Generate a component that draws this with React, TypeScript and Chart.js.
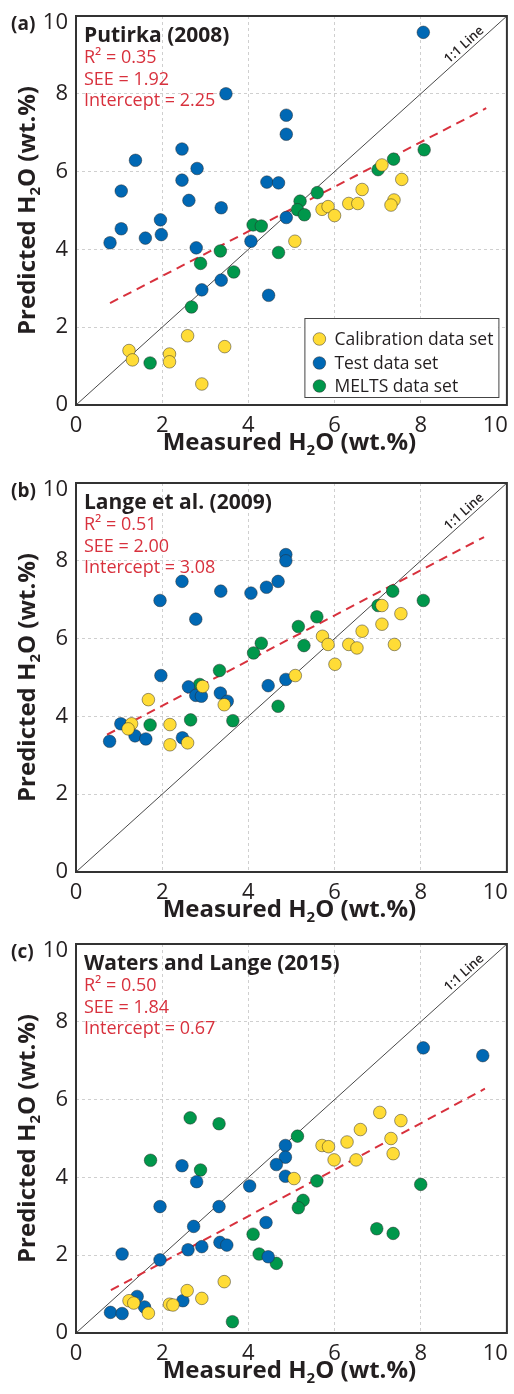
import React, { useEffect, useRef } from 'react';
import { Chart, registerables } from 'chart.js';

Chart.register(...registerables);

const FONT = '"Open Sans", "Noto Sans", sans-serif';
const INK = '#231f20';
const RED = '#d8313d';
const YELLOW = '#ffdc36';
const BLUE = '#0068b4';
const GREEN = '#00974b';

// ---------- shared ----------
const TICKS = [0, 2, 4, 6, 8, 10];
const SERIES_NAMES = ['Calibration data set', 'Test data set', 'MELTS data set'];
const PANEL_LETTERS = ['(a)', '(b)', '(c)'];
const MODEL_NAMES = ['Putirka (2008)', 'Lange et al. (2009)', 'Waters and Lange (2015)'];
const R2 = ['0.35', '0.51', '0.50'];
const SEE = ['1.92', '2.00', '1.84'];
const INTERCEPT = ['2.25', '3.08', '0.67'];
const X_TITLE = ['Measured H', '2', 'O (wt.%)'];
const Y_TITLE = ['Predicted H', '2', 'O (wt.%)'];
const ONE_TO_ONE_X = [0, 10];
const ONE_TO_ONE_Y = [0, 10];
const ONE_TO_ONE_LABEL = '1:1 Line';

// ---------- panel (a) Putirka (2008) ----------
const A_CAL_X = [7.10, 7.56, 6.64, 6.33, 6.54, 7.38, 7.31, 5.71, 5.85, 6.00, 5.08, 2.59, 1.23, 1.31, 2.17, 2.17, 3.45, 2.92];
const A_CAL_Y = [6.17, 5.80, 5.54, 5.18, 5.18, 5.27, 5.14, 5.03, 5.10, 4.87, 4.21, 1.78, 1.40, 1.16, 1.31, 1.11, 1.50, 0.54];
const A_TEST_X = [8.06, 3.48, 4.88, 4.88, 2.46, 1.38, 2.81, 2.46, 4.43, 4.70, 1.05, 2.62, 3.37, 1.96, 4.88, 1.05, 0.79, 1.61, 1.98, 2.79, 4.06, 3.37, 2.92, 4.47];
const A_TEST_Y = [9.58, 8.00, 7.45, 6.96, 6.58, 6.29, 6.08, 5.78, 5.73, 5.71, 5.50, 5.26, 5.07, 4.76, 4.82, 4.53, 4.17, 4.29, 4.38, 4.04, 4.21, 3.21, 2.96, 2.82];
const A_MELTS_X = [8.08, 7.37, 7.01, 5.60, 5.20, 5.14, 5.30, 4.11, 4.30, 3.35, 4.70, 2.89, 3.66, 2.68, 1.72];
const A_MELTS_Y = [6.56, 6.32, 6.05, 5.46, 5.24, 5.02, 4.89, 4.63, 4.60, 3.96, 3.92, 3.64, 3.42, 2.52, 1.08];
const A_FIT_X = [0.79, 9.52];
const A_FIT_Y = [2.62, 7.63];

// ---------- panel (b) Lange et al. (2009) ----------
const B_CAL_X = [7.10, 7.54, 7.10, 6.64, 5.72, 5.85, 6.33, 6.52, 7.39, 6.01, 5.09, 2.94, 1.68, 3.44, 1.29, 1.21, 2.18, 2.18, 2.59];
const B_CAL_Y = [6.85, 6.64, 6.37, 6.19, 6.06, 5.85, 5.85, 5.76, 5.85, 5.34, 5.05, 4.77, 4.43, 4.30, 3.81, 3.68, 3.79, 3.27, 3.32];
const B_TEST_X = [4.87, 4.87, 2.46, 4.69, 4.42, 3.36, 4.06, 1.95, 2.78, 1.97, 4.87, 2.61, 4.46, 2.78, 2.91, 3.35, 3.51, 1.04, 1.37, 1.62, 2.47, 0.78];
const B_TEST_Y = [8.16, 8.00, 7.47, 7.47, 7.32, 7.22, 7.17, 6.98, 6.50, 5.05, 4.95, 4.76, 4.79, 4.54, 4.52, 4.60, 4.39, 3.81, 3.50, 3.42, 3.45, 3.36];
const B_MELTS_X = [7.35, 8.06, 7.01, 5.59, 5.16, 5.29, 4.30, 4.12, 3.33, 2.87, 1.72, 2.66, 3.64, 4.69];
const B_MELTS_Y = [7.22, 6.98, 6.85, 6.56, 6.31, 5.82, 5.88, 5.63, 5.18, 4.82, 3.78, 3.91, 3.89, 4.26];
const B_FIT_X = [0.72, 9.47];
const B_FIT_Y = [3.53, 8.61];

// ---------- panel (c) Waters and Lange (2015) ----------
const C_CAL_X = [7.05, 7.54, 6.60, 7.31, 6.29, 5.71, 5.86, 7.36, 5.99, 6.50, 5.06, 3.44, 2.58, 2.92, 2.17, 2.25, 1.23, 1.34, 1.68];
const C_CAL_Y = [5.67, 5.46, 5.23, 5.00, 4.91, 4.82, 4.79, 4.61, 4.45, 4.45, 3.97, 1.32, 1.09, 0.89, 0.74, 0.72, 0.83, 0.77, 0.51];
const C_TEST_X = [8.06, 9.44, 4.86, 4.86, 4.65, 2.46, 4.86, 2.80, 4.03, 1.95, 3.32, 4.41, 2.73, 3.34, 3.50, 2.92, 2.60, 1.07, 1.95, 4.46, 1.42, 2.48, 1.59, 0.80, 1.07];
const C_TEST_Y = [7.33, 7.13, 4.82, 4.52, 4.33, 4.30, 4.03, 3.89, 3.78, 3.25, 3.25, 2.84, 2.74, 2.33, 2.26, 2.22, 2.14, 2.03, 1.88, 1.96, 0.94, 0.83, 0.67, 0.53, 0.50];
const C_MELTS_X = [2.65, 3.32, 5.14, 1.73, 2.89, 5.59, 8.00, 5.27, 5.16, 6.98, 7.36, 4.11, 4.25, 4.65, 3.63];
const C_MELTS_Y = [5.53, 5.38, 5.06, 4.44, 4.19, 3.91, 3.82, 3.41, 3.22, 2.68, 2.56, 2.54, 2.03, 1.79, 0.29];
const C_FIT_X = [0.81, 9.49];
const C_FIT_Y = [1.10, 6.28];

const zip = (xs: number[], ys: number[]) => xs.map((x, i) => ({ x, y: ys[i] }));

const PANEL_DATA = [
  { cal: zip(A_CAL_X, A_CAL_Y), test: zip(A_TEST_X, A_TEST_Y), melts: zip(A_MELTS_X, A_MELTS_Y), fit: zip(A_FIT_X, A_FIT_Y) },
  { cal: zip(B_CAL_X, B_CAL_Y), test: zip(B_TEST_X, B_TEST_Y), melts: zip(B_MELTS_X, B_MELTS_Y), fit: zip(B_FIT_X, B_FIT_Y) },
  { cal: zip(C_CAL_X, C_CAL_Y), test: zip(C_TEST_X, C_TEST_Y), melts: zip(C_MELTS_X, C_MELTS_Y), fit: zip(C_FIT_X, C_FIT_Y) },
];

const CANVAS_W = 514;
const CANVAS_H = 466;
const TOPS = [0, 467, 928];

function drawSub(ctx: CanvasRenderingContext2D, parts: string[], cx: number, cy: number, big: number, small: number, dy: number) {
  const fonts = parts.map((_, i) => `bold ${i === 1 ? small : big}px ${FONT}`);
  let w = 0;
  parts.forEach((p, i) => { ctx.font = fonts[i]; w += ctx.measureText(p).width; });
  let x = cx - w / 2;
  ctx.textAlign = 'left';
  ctx.textBaseline = 'alphabetic';
  parts.forEach((p, i) => {
    ctx.font = fonts[i];
    ctx.fillText(p, x, i === 1 ? cy + dy : cy);
    x += ctx.measureText(p).width;
  });
}

function makePlugin(idx: number) {
  return {
    id: 'decor' + idx,
    beforeDraw(chart: any) {
      try {
        const xs = chart.scales.x;
        const ys = chart.scales.y;
        const xi = xs.getLabelItems(chart.chartArea);
        const last = xi[xi.length - 1];
        if (last && !last._adj) {
          last.options.textAlign = 'right';
          last.options.translation[0] = xs.right + 1;
          last._adj = true;
        }
        const yi = ys.getLabelItems(chart.chartArea);
        const top = yi[yi.length - 1];
        if (top && !top._adj) {
          top.options.translation[1] += 7;
          top._adj = true;
        }
      } catch (e) { /* ignore */ }
    },
    afterDraw(chart: any) {
      const ctx: CanvasRenderingContext2D = chart.ctx;
      const { left, right, top, bottom } = chart.chartArea;
      const xs = chart.scales.x;
      const ys = chart.scales.y;
      ctx.save();
      // frame
      ctx.strokeStyle = '#333';
      ctx.lineWidth = 2;
      ctx.strokeRect(left, top, right - left, bottom - top);

      // 1:1 label
      const ang = Math.atan2(ys.getPixelForValue(10) - ys.getPixelForValue(0), xs.getPixelForValue(10) - xs.getPixelForValue(0));
      ctx.save();
      ctx.translate(xs.getPixelForValue(9.12), ys.getPixelForValue(9.12));
      ctx.rotate(ang);
      ctx.fillStyle = INK;
      ctx.font = `600 13px ${FONT}`;
      ctx.textAlign = 'center';
      ctx.textBaseline = 'alphabetic';
      ctx.fillText(ONE_TO_ONE_LABEL, 0, -3.5);
      ctx.restore();

      // model name and stats
      ctx.textAlign = 'left';
      ctx.textBaseline = 'alphabetic';
      ctx.fillStyle = INK;
      ctx.font = `bold 21px ${FONT}`;
      ctx.fillText(MODEL_NAMES[idx], left + 8, top + 26);
      ctx.fillStyle = RED;
      ctx.font = `18px ${FONT}`;
      ctx.fillText(`R² = ${R2[idx]}`, left + 8, top + 47);
      ctx.fillText(`SEE = ${SEE[idx]}`, left + 8, top + 69);
      ctx.fillText(`Intercept = ${INTERCEPT[idx]}`, left + 8, top + 90);

      // panel letter
      ctx.fillStyle = INK;
      ctx.font = `bold 19px ${FONT}`;
      ctx.fillText(PANEL_LETTERS[idx], 11, top + 14);

      // axis titles
      ctx.fillStyle = INK;
      drawSub(ctx, X_TITLE, (left + right) / 2 - 2, bottom + 45, 24, 15, 5);
      ctx.save();
      ctx.translate(35, (top + bottom) / 2);
      ctx.rotate(-Math.PI / 2);
      drawSub(ctx, Y_TITLE, 0, 0, 24, 15, 5);
      ctx.restore();

      // legend (panel a)
      if (idx === 0) {
        const bw = 194, bh = 79;
        const bx = right - 8.5 - bw;
        const by = bottom - 8 - bh;
        ctx.fillStyle = '#fff';
        ctx.fillRect(bx, by, bw, bh);
        ctx.strokeStyle = '#444';
        ctx.lineWidth = 1;
        ctx.strokeRect(bx + 0.5, by + 0.5, bw, bh);
        const cols = [YELLOW, BLUE, GREEN];
        const rows = [21, 45, 68];
        SERIES_NAMES.forEach((name, i) => {
          ctx.beginPath();
          ctx.arc(bx + 15, by + rows[i], 6.3, 0, Math.PI * 2);
          ctx.fillStyle = cols[i];
          ctx.fill();
          ctx.strokeStyle = 'rgba(40,40,40,0.6)';
          ctx.lineWidth = 0.8;
          ctx.stroke();
          ctx.fillStyle = INK;
          ctx.font = `17.5px ${FONT}`;
          ctx.textBaseline = 'middle';
          ctx.fillText(name, bx + 30, by + rows[i] + 1);
        });
      }
      ctx.restore();
    },
  };
}

function Panel({ idx }: { idx: number }) {
  const ref = useRef<HTMLCanvasElement>(null);
  useEffect(() => {
    const d = PANEL_DATA[idx];
    const pointStyle = (color: string) => ({
      backgroundColor: color,
      borderColor: 'rgba(40,40,40,0.6)',
      borderWidth: 0.8,
      pointRadius: 6.3,
      pointHoverRadius: 6.3,
    });
    const tickOpts = {
      stepSize: 2,
      padding: 8,
      color: INK,
      font: { size: 22, family: FONT },
      autoSkip: false,
      maxRotation: 0,
      callback: (v: any) => (TICKS.includes(v) ? String(v) : ''),
    };
    const chart = new Chart(ref.current as HTMLCanvasElement, {
      type: 'scatter',
      data: {
        datasets: [
          { label: SERIES_NAMES[0], data: d.cal, order: 1, ...pointStyle(YELLOW) },
          { label: SERIES_NAMES[1], data: d.test, order: 2, ...pointStyle(BLUE) },
          { label: SERIES_NAMES[2], data: d.melts, order: 3, ...pointStyle(GREEN) },
          {
            label: 'fit', data: d.fit, order: 4, showLine: true, pointRadius: 0,
            borderColor: RED, borderWidth: 2, borderDash: [9, 6], backgroundColor: RED,
          },
          {
            label: ONE_TO_ONE_LABEL, data: zip(ONE_TO_ONE_X, ONE_TO_ONE_Y), order: 5, showLine: true, pointRadius: 0,
            borderColor: '#333', borderWidth: 0.9, backgroundColor: '#333',
          },
        ] as any,
      },
      options: {
        responsive: false,
        animation: false,
        devicePixelRatio: 1,
        layout: { padding: { top: 16, right: 4.5, left: 0, bottom: 0 } },
        plugins: { legend: { display: false }, tooltip: { enabled: false } },
        scales: {
          x: {
            type: 'linear', min: 0, max: 10,
            ticks: tickOpts,
            grid: { color: '#cfcfcf', lineWidth: 1, drawTicks: false },
            border: { display: false, dash: [3, 3] },
            afterFit: (s: any) => { s.height = CANVAS_H - 16 - 389; s.paddingLeft = 0; s.paddingRight = 0; },
          },
          y: {
            type: 'linear', min: 0, max: 10,
            ticks: tickOpts,
            grid: { color: '#cfcfcf', lineWidth: 1, drawTicks: false },
            border: { display: false, dash: [3, 3] },
            afterFit: (s: any) => { s.width = 76; s.paddingTop = 0; s.paddingBottom = 0; },
          },
        },
      } as any,
      plugins: [makePlugin(idx)],
    });
    return () => chart.destroy();
  }, [idx]);
  return (
    <canvas
      ref={ref}
      width={CANVAS_W}
      height={CANVAS_H}
      style={{ position: 'absolute', left: 0, top: TOPS[idx], width: CANVAS_W, height: CANVAS_H, display: 'block' }}
    />
  );
}

export default function App() {
  return (
    <div style={{ position: 'absolute', left: 0, top: 0, width: 514, height: 1394, background: '#fff', overflow: 'hidden' }}>
      <Panel idx={0} />
      <Panel idx={1} />
      <Panel idx={2} />
    </div>
  );
}
